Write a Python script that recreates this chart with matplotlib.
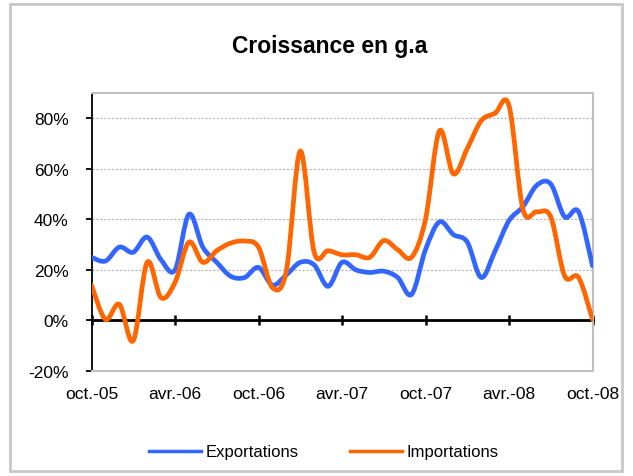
import matplotlib
matplotlib.use("Agg")
import matplotlib.pyplot as plt
import numpy as np
from matplotlib.patches import PathPatch, Rectangle
from matplotlib.path import Path
from matplotlib.lines import Line2D

plt.rcParams["font.family"] = ["Liberation Sans", "DejaVu Sans"]

# monthly growth (y/y, %), oct.-05 .. oct.-08
exportations = [25, 23.5, 29, 27, 33, 24, 20, 42, 29, 23, 17.5, 17, 21,
                14, 18, 23, 22, 13.5, 23, 20, 19, 19.5, 17, 10.3, 28,
                39, 34, 31, 17, 27.5, 39.5, 45, 53.5, 54, 41, 43, 21.6]
importations = [14, 0.4, 6.4, -8, 23, 9, 15, 31, 23, 27.6, 30.6, 31.4, 29,
                13, 19.6, 67, 27, 27.6, 26, 26, 25, 31.6, 28, 25, 40,
                75, 58, 68, 79, 82, 85, 44, 43, 41, 17.6, 17, 0.4]
tick_labels = ["oct.-05", "avr.-06", "oct.-06", "avr.-07", "oct.-07", "avr.-08", "oct.-08"]
tick_step = 6
y_ticks = [-20, 0, 20, 40, 60, 80]


def smooth_path(values):
    # Catmull-Rom style bezier through each monthly point (like a smoothed Excel line)
    pts = np.column_stack([np.arange(len(values)), np.asarray(values, dtype=float)])
    verts = [pts[0]]
    codes = [Path.MOVETO]
    n = len(pts)
    for i in range(n - 1):
        p0 = pts[max(i - 1, 0)]
        p1 = pts[i]
        p2 = pts[i + 1]
        p3 = pts[min(i + 2, n - 1)]
        c1 = p1 + (p2 - p0) / 6.0
        c2 = p2 - (p3 - p1) / 6.0
        verts += [c1, c2, p2]
        codes += [Path.CURVE4] * 3
    return Path(verts, codes)


fig = plt.figure(figsize=(6.33, 4.77), dpi=100)
fig.patches.append(Rectangle((10 / 633, 5 / 477), 612 / 633, 467 / 477, transform=fig.transFigure,
                             fill=False, edgecolor="#c8c8c8", linewidth=2))

ax = fig.add_axes([91.5 / 633, 1 - 372 / 477, 501 / 633, 278 / 477])
n_months = len(exportations)
ax.set_xlim(0, n_months - 1)
ax.set_ylim(-20, 90)

for yv in y_ticks[2:]:
    ax.axhline(yv, color="#b4b4b4", linewidth=0.8, linestyle=(0, (2, 1.5)), zorder=1)

ax.add_patch(PathPatch(smooth_path(exportations), fill=False, edgecolor="#3366ff",
                       linewidth=3.4, capstyle="round", joinstyle="round", zorder=3))
ax.add_patch(PathPatch(smooth_path(importations), fill=False, edgecolor="#ff6600",
                       linewidth=3.4, capstyle="round", joinstyle="round", zorder=3))

for side in ["top", "right", "bottom"]:
    ax.spines[side].set_color("#c0c0c0")
    ax.spines[side].set_linewidth(1.5)
ax.spines["left"].set_color("black")
ax.spines["left"].set_linewidth(1.3)

ax.set_yticks(y_ticks)
ax.set_yticklabels([f"{v}%" for v in y_ticks])
ax.tick_params(axis="y", direction="out", length=4.3, width=1.3, pad=12, labelsize=12.5)

xt = np.arange(0, n_months, tick_step)
ax.set_xticks(xt)
ax.set_xticklabels(tick_labels)
ax.tick_params(axis="x", length=0, pad=11, labelsize=12.5)

# zero axis with crossing ticks
zero_ax = ax.secondary_xaxis(20 / 110)
zero_ax.spines["bottom"].set_linewidth(2)
zero_ax.spines["bottom"].set_color("black")
zero_ax.set_xticks(xt)
zero_ax.set_xticklabels([])
zero_ax.tick_params(axis="x", direction="inout", length=6.5, width=1.8)

fig.text(330 / 633, 1 - 47 / 477, "Croissance en g.a", ha="center", va="center",
         fontsize=16.5, fontweight="bold")

handles = [Line2D([], [], color="#3366ff", linewidth=2.5),
           Line2D([], [], color="#ff6600", linewidth=2.5)]
fig.legend(handles, ["Exportations", "Importations"], loc="center",
           bbox_to_anchor=(324 / 633, 1 - 453 / 477), ncol=2, frameon=False,
           fontsize=12, handlelength=3.1, handletextpad=0.3, columnspacing=3.1)

fig.savefig("out.png", dpi=100)
